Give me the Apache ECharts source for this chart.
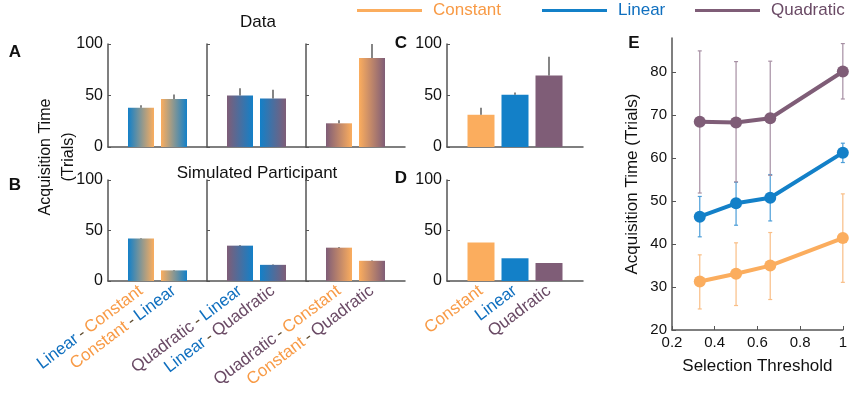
<!DOCTYPE html>
<html>
<head>
<meta charset="utf-8">
<script src="https://cdn.jsdelivr.net/npm/echarts@6/dist/echarts.min.js"></script>
<style>
  html, body { margin: 0; padding: 0; background: #fff; }
  #chart { width: 850px; height: 393px; }
</style>
</head>
<body>
<div id="chart"></div>
<script>
// colours of the three rule types
var colors = { Constant: '#FBAD5E', Linear: '#1380C8', Quadratic: '#7F5D77' };
var textColors = { Constant: '#F89A45', Linear: '#0F6FBF', Quadratic: '#6A4A65' };
var errColors = { Constant: '#F9BE86', Linear: '#4C9ED8', Quadratic: '#A68FA3' };

// panels A / B : first rule - second rule
var pairs = ['Linear - Constant', 'Constant - Linear',
             'Quadratic - Linear', 'Linear - Quadratic',
             'Quadratic - Constant', 'Constant - Quadratic'];
var dataMean = [38, 46.5, 50, 47, 23, 86.5];
var dataErr = [2.5, 4.5, 7, 8.5, 3, 13.5];
var simMean = [42, 10.5, 35, 16, 33, 20];
var simErr = [0.5, 0.4, 0.6, 0.6, 0.6, 0.5];

// panels C / D : single rule
var rules = ['Constant', 'Linear', 'Quadratic'];
var ruleMean = [31.3, 50.7, 69.3];
var ruleErr = [6.7, 2.3, 18.4];
var simRuleMean = [38, 22.5, 17.8];

// panel E : acquisition time vs selection threshold
var thresholds = [0.33, 0.5, 0.66, 1];
var constMean = [31.3, 33.1, 35.0, 41.4];
var constLo = [24.9, 25.7, 27.1, 31.1];
var constHi = [37.5, 40.3, 42.7, 51.7];
var linMean = [46.4, 49.5, 50.8, 61.3];
var linLo = [41.7, 44.4, 45.4, 59.0];
var linHi = [51.1, 54.4, 56.2, 63.5];
var quadMean = [68.5, 68.3, 69.3, 80.2];
var quadLo = [51.9, 54.5, 56.0, 73.8];
var quadHi = [85.0, 82.5, 82.6, 86.7];

var FONT = '"Liberation Sans", Arial, Helvetica, sans-serif';
var AXIS = '#555555';

function grad(pair) {
    var p = pair.split(' - ');
    return new echarts.graphic.LinearGradient(0, 0, 1, 0, [
        { offset: 0, color: colors[p[0]] },
        { offset: 1, color: colors[p[1]] }
    ]);
}

var rich = { dash: { color: '#5E4A2E', fontSize: 17, fontFamily: FONT } };
rules.forEach(function (r) {
    rich[r] = { color: textColors[r], fontSize: 17, fontFamily: FONT };
});
function pairLabel(v) {
    if (!v) return '';
    var p = v.split(' - ');
    return '{' + p[0] + '|' + p[0] + '} {dash|-} {' + p[1] + '|' + p[1] + '}';
}
function ruleLabel(v) {
    if (!v) return '';
    return '{' + v + '|' + v + '}';
}

var grids = [], xAxes = [], yAxes = [], series = [];

function errSeries(idx, items, color, width, cap) {
    return {
        type: 'custom', xAxisIndex: idx, yAxisIndex: idx, z: 5,
        data: items,
        renderItem: function (params, api) {
            var top = api.coord([api.value(0), api.value(2)]);
            var bot = api.coord([api.value(0), api.value(1)]);
            var children = [{
                type: 'line',
                shape: { x1: top[0], y1: top[1], x2: bot[0], y2: bot[1] },
                style: { stroke: color, lineWidth: width }
            }];
            if (cap) {
                children.push({ type: 'line', shape: { x1: top[0] - cap, y1: top[1], x2: top[0] + cap, y2: top[1] }, style: { stroke: color, lineWidth: width } });
                children.push({ type: 'line', shape: { x1: bot[0] - cap, y1: bot[1], x2: bot[0] + cap, y2: bot[1] }, style: { stroke: color, lineWidth: width } });
            }
            return { type: 'group', children: children };
        }
    };
}

function barYAxis(idx, showLabels) {
    return {
        gridIndex: idx, type: 'value', min: 0, max: 100, interval: 50,
        axisLine: { show: true, lineStyle: { color: AXIS, width: 1.5 } },
        axisTick: { show: true, inside: true, length: 3, lineStyle: { color: AXIS } },
        axisLabel: { show: showLabels, fontSize: 16, color: '#111', fontFamily: FONT, margin: 5 },
        splitLine: { show: false }
    };
}

// panels A (row 0) and B (row 1), three sub-panels each
for (var row = 0; row < 2; row++) {
    for (var s = 0; s < 3; s++) {
        var idx = row * 3 + s;
        grids.push({ left: 108 + s * 99, top: row === 0 ? 44 : 180, width: 99, height: row === 0 ? 103 : 101 });
        var c1 = pairs[2 * s], c2 = pairs[2 * s + 1];
        xAxes.push({
            gridIndex: idx, type: 'category', boundaryGap: false,
            data: ['', c1, c2, ''],
            axisLine: { lineStyle: { color: AXIS, width: 1.5 } },
            axisTick: { show: false },
            axisLabel: {
                show: row === 1, interval: 0, rotate: 37, margin: 8,
                formatter: pairLabel, rich: rich
            }
        });
        yAxes.push(barYAxis(idx, s === 0));
        var means = row === 0 ? dataMean : simMean;
        var errs = row === 0 ? dataErr : simErr;
        series.push({
            type: 'bar', xAxisIndex: idx, yAxisIndex: idx, barWidth: 26,
            data: ['-',
                { value: means[2 * s], itemStyle: { color: grad(c1) } },
                { value: means[2 * s + 1], itemStyle: { color: grad(c2) } },
                '-']
        });
        series.push(errSeries(idx, [
            [1, means[2 * s], means[2 * s] + errs[2 * s]],
            [2, means[2 * s + 1], means[2 * s + 1] + errs[2 * s + 1]]
        ], '#444', 1.3, 0));
    }
}

// panels C (6) and D (7)
for (var r2 = 0; r2 < 2; r2++) {
    var gi = 6 + r2;
    grids.push({ left: 447, top: r2 === 0 ? 44 : 180, width: 136, height: r2 === 0 ? 103 : 101 });
    xAxes.push({
        gridIndex: gi, type: 'category', boundaryGap: false,
        data: [''].concat(rules).concat(['']),
        axisLine: { lineStyle: { color: AXIS, width: 1.5 } },
        axisTick: { show: false },
        axisLabel: { show: r2 === 1, interval: 0, rotate: 37, margin: 8, formatter: ruleLabel, rich: rich }
    });
    yAxes.push(barYAxis(gi, true));
    var vals = r2 === 0 ? ruleMean : simRuleMean;
    series.push({
        type: 'bar', xAxisIndex: gi, yAxisIndex: gi, barWidth: 27,
        data: ['-'].concat(vals.map(function (v, i) {
            return { value: v, itemStyle: { color: colors[rules[i]] } };
        })).concat(['-'])
    });
    if (r2 === 0) {
        series.push(errSeries(gi, ruleMean.map(function (v, i) {
            return [i + 1, v, v + ruleErr[i]];
        }), '#444', 1.3, 0));
    }
}

// panel E (8)
grids.push({ left: 672, top: 38, width: 171, height: 292 });
xAxes.push({
    gridIndex: 8, type: 'value', min: 0.2, max: 1, interval: 0.2,
    name: 'Selection Threshold', nameLocation: 'middle', nameGap: 28,
    nameTextStyle: { fontSize: 17, color: '#111', fontFamily: FONT },
    axisLine: { lineStyle: { color: AXIS, width: 1.5 } },
    axisTick: { inside: true, length: 4, lineStyle: { color: AXIS } },
    axisLabel: { fontSize: 15, color: '#111', fontFamily: FONT, margin: 5 },
    splitLine: { show: false }
});
yAxes.push({
    gridIndex: 8, type: 'value', min: 20, max: 88, interval: 10,
    name: 'Acquisition Time (Trials)', nameLocation: 'middle', nameGap: 31,
    nameTextStyle: { fontSize: 17, color: '#111', fontFamily: FONT },
    axisLine: { show: true, lineStyle: { color: AXIS, width: 1.5 } },
    axisTick: { inside: true, length: 4, lineStyle: { color: AXIS } },
    axisLabel: { fontSize: 15, color: '#111', fontFamily: FONT, margin: 5, showMaxLabel: false },
    splitLine: { show: false }
});

var lines = [
    ['Constant', constMean, constLo, constHi],
    ['Linear', linMean, linLo, linHi],
    ['Quadratic', quadMean, quadLo, quadHi]
];
lines.forEach(function (l) {
    series.push(errSeries(8, thresholds.map(function (t, i) {
        return [t, l[2][i], l[3][i]];
    }), errColors[l[0]], 1.2, 2));
});
lines.forEach(function (l) {
    series.push({
        name: l[0], type: 'line', xAxisIndex: 8, yAxisIndex: 8, z: 6,
        data: thresholds.map(function (t, i) { return [t, l[1][i]]; }),
        lineStyle: { width: 4, color: colors[l[0]] },
        itemStyle: { color: colors[l[0]] },
        symbol: 'circle', symbolSize: 12
    });
});

function label(text, x, y, opts) {
    var st = { text: text, x: 0, y: 0, fill: '#111', font: (opts && opts.font) || ('17px ' + FONT), align: 'center', verticalAlign: 'middle' };
    if (opts && opts.lineHeight) st.lineHeight = opts.lineHeight;
    return { type: 'text', x: x, y: y, rotation: (opts && opts.rotation) || 0, style: st };
}

var graphics = [
    label('Data', 258, 22),
    label('Simulated Participant', 257, 173),
    label('A', 15, 52, { font: 'bold 17px ' + FONT }),
    label('B', 15, 185, { font: 'bold 17px ' + FONT }),
    label('C', 401, 43, { font: 'bold 17px ' + FONT }),
    label('D', 401, 178, { font: 'bold 17px ' + FONT }),
    label('E', 634, 43, { font: 'bold 17px ' + FONT }),
    label('Acquisition Time\n(Trials)', 57, 157, { rotation: Math.PI / 2, lineHeight: 23, font: '16px ' + FONT })
];

// one legend per rule so each entry sits where the reference puts it
var legendLeft = [357, 542, 695];
var legends = rules.map(function (r, i) {
    return {
        left: legendLeft[i], top: 2, padding: 0,
        icon: 'rect', itemWidth: 65, itemHeight: 3,
        textStyle: { fontSize: 17, fontFamily: FONT, color: textColors[r], padding: [0, 0, 0, 6] },
        data: [{ name: r, itemStyle: { color: colors[r] } }]
    };
});

var myChart = echarts.init(document.getElementById('chart'));
var option = {
    animation: false,
    textStyle: { fontFamily: FONT },
    legend: legends,
    grid: grids,
    xAxis: xAxes,
    yAxis: yAxes,
    graphic: graphics,
    series: series
};
myChart.setOption(option);
</script>
</body>
</html>
